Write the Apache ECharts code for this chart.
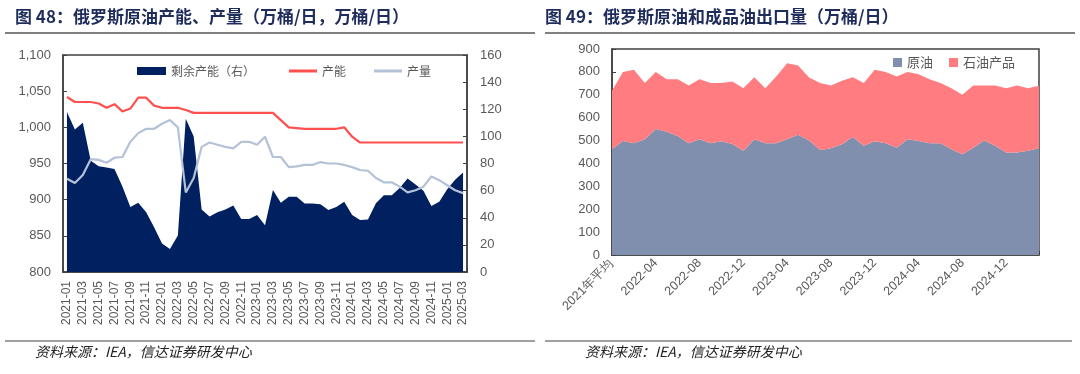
<!DOCTYPE html>
<html><head><meta charset="utf-8">
<script src="https://cdn.jsdelivr.net/npm/echarts@6/dist/echarts.min.js"></script>
<style>html,body{margin:0;padding:0;background:#fff}#c{width:1080px;height:374px}</style>
</head><body><div id="c"></div>
<script>
// ---------- Left chart (图 48) data ----------
const leftCategories = [
 '2021-01','2021-02','2021-03','2021-04','2021-05','2021-06','2021-07','2021-08','2021-09','2021-10','2021-11','2021-12',
 '2022-01','2022-02','2022-03','2022-04','2022-05','2022-06','2022-07','2022-08','2022-09','2022-10','2022-11','2022-12',
 '2023-01','2023-02','2023-03','2023-04','2023-05','2023-06','2023-07','2023-08','2023-09','2023-10','2023-11','2023-12',
 '2024-01','2024-02','2024-03','2024-04','2024-05','2024-06','2024-07','2024-08','2024-09','2024-10','2024-11','2024-12',
 '2025-01','2025-02','2025-03'];
const spareCapacity = [118,105,110,82,78,77,76,63,48,51,44,33,21,17,27,113,100,46,41,44,46,49,39,39,42,34.5,60.5,51,55.5,55.5,50.5,50.5,50,45.7,48,51.8,42,38.3,38.8,50.6,56.5,56.5,62,69,64.5,60,48.7,51.8,61,68,73.4];
const capacity = [1042,1035,1035,1035,1033,1027,1032,1022,1026,1041,1041,1030,1027,1027,1027,1024,1020,1020,1020,1020,1020,1020,1020,1020,1020,1020,1020,1010,1000,999,998,998,998,998,998,1000,987,979,979,979,979,979,979,979,979,979,979,979,979,979,979];
const production = [929,923,934,956,955,951,958,959,980,992,998,998,1005,1010,1000,910,930,973,979,976,973,971,980,980,976,987,959,959,945,946,948,948,952,950,950,948,945,941,940,930,924,924,918,910,913,918,932,927,920,913,909];
const leftAxisTicks = [800, 1100, 50];
const rightAxisTicks = [0, 160, 20];

// ---------- Right chart (图 49) data ----------
const rightCategories = ['2021年平均',
 '2022-01','2022-02','2022-03','2022-04','2022-05','2022-06','2022-07','2022-08','2022-09','2022-10','2022-11','2022-12',
 '2023-01','2023-02','2023-03','2023-04','2023-05','2023-06','2023-07','2023-08','2023-09','2023-10','2023-11','2023-12',
 '2024-01','2024-02','2024-03','2024-04','2024-05','2024-06','2024-07','2024-08','2024-09','2024-10','2024-11','2024-12',
 '2025-01','2025-02','2025-03'];
const crudeExports = [462,498,488,506,550,539,520,488,506,488,497,485,456,506,488,488,506,525,500,459,466,484,515,477,497,488,469,506,498,488,488,462,440,469,500,477,448,448,456,466];
const productExports = [256,302,321,245,249,229,248,252,262,263,254,273,273,271,241,292,332,303,276,292,274,277,262,274,312,311,311,293,292,280,263,267,260,271,240,263,281,292,273,273];
const exportAxisTicks = [0, 900, 100];

const NUM = '"Liberation Sans", Arial, sans-serif';
const CJK = '"Noto Sans CJK SC", sans-serif';
const GRAY = '#595959';
const BOX = '#404040';

const chart = echarts.init(document.getElementById('c'), null, {renderer: 'canvas'});

const valAxisCommon = {
  splitLine: {show: false},
  axisLine: {show: true, lineStyle: {color: BOX, width: 1.5}},
  axisTick: {show: true, inside: true, length: 4, lineStyle: {color: BOX}},
  axisLabel: {color: GRAY, fontSize: 13, fontFamily: NUM}
};

chart.setOption({
  animation: false,
  backgroundColor: '#fff',
  graphic: [
    {type: 'text', left: 15, top: 8, style: {text: '图 48：俄罗斯原油产能、产量（万桶/日，万桶/日）', font: 'bold 17px "Noto Sans CJK SC"', fill: '#1F2D5C'}},
    {type: 'line', shape: {x1: 5, y1: 33, x2: 535, y2: 33}, style: {stroke: '#808080', lineWidth: 2}},
    {type: 'text', left: 545, top: 8, style: {text: '图 49：俄罗斯原油和成品油出口量（万桶/日）', font: 'bold 17px "Noto Sans CJK SC"', fill: '#1F2D5C'}},
    {type: 'line', shape: {x1: 545, y1: 33, x2: 1075, y2: 33}, style: {stroke: '#808080', lineWidth: 2}},
    {type: 'line', shape: {x1: 5, y1: 341, x2: 535, y2: 341}, style: {stroke: '#808080', lineWidth: 1.5}},
    {type: 'line', shape: {x1: 545, y1: 341, x2: 1072, y2: 341}, style: {stroke: '#808080', lineWidth: 1.5}},
    {type: 'text', left: 35, top: 345, style: {text: '资料来源：IEA，信达证券研发中心', font: 'italic 14px "Noto Sans CJK SC"', fill: '#222'}},
    {type: 'text', left: 585, top: 345, style: {text: '资料来源：IEA，信达证券研发中心', font: 'italic 14px "Noto Sans CJK SC"', fill: '#222'}}
  ],
  legend: [
    {data: ['剩余产能（右）'], left: 137, top: 65, padding: 0, icon: 'rect', itemWidth: 29, itemHeight: 8,
     textStyle: {color: GRAY, fontSize: 12, fontFamily: CJK}},
    {data: ['产能'], left: 289, top: 65, padding: 0, icon: 'rect', itemWidth: 28, itemHeight: 3,
     textStyle: {color: GRAY, fontSize: 12, fontFamily: CJK}},
    {data: ['产量'], left: 374, top: 65, padding: 0, icon: 'rect', itemWidth: 28, itemHeight: 3,
     textStyle: {color: GRAY, fontSize: 12, fontFamily: CJK}},
    {data: ['原油', '石油产品'], left: 893, top: 56, padding: 0, icon: 'rect', itemWidth: 9, itemHeight: 9, itemGap: 16,
     textStyle: {color: GRAY, fontSize: 13, fontFamily: CJK}}
  ],
  grid: [
    {left: 63, top: 55, width: 404, height: 217, show: true, borderColor: BOX, borderWidth: 1.5, backgroundColor: 'transparent'},
    {left: 612, top: 49, width: 427, height: 206, show: true, borderColor: BOX, borderWidth: 1.5, backgroundColor: 'transparent'}
  ],
  xAxis: [
    {gridIndex: 0, type: 'category', data: leftCategories, boundaryGap: true,
     axisLine: {lineStyle: {color: BOX, width: 1.5}},
     axisTick: {show: true, inside: true, interval: 1, length: 4, lineStyle: {color: BOX}},
     axisLabel: {interval: 1, rotate: 90, color: GRAY, fontSize: 12, fontFamily: NUM, margin: 9}},
    {gridIndex: 1, type: 'category', data: rightCategories, boundaryGap: false,
     axisLine: {lineStyle: {color: BOX, width: 1.5}},
     axisTick: {show: true, inside: true, interval: 0, length: 4, lineStyle: {color: BOX}},
     axisLabel: {interval: 3, rotate: 45, color: GRAY, fontSize: 12.5, fontFamily: NUM, margin: 6}}
  ],
  yAxis: [
    Object.assign({}, valAxisCommon, {gridIndex: 0, type: 'value', min: leftAxisTicks[0], max: leftAxisTicks[1], interval: leftAxisTicks[2],
      axisLabel: Object.assign({}, valAxisCommon.axisLabel, {formatter: v => v.toLocaleString('en-US'), margin: 12})}),
    Object.assign({}, valAxisCommon, {gridIndex: 0, type: 'value', position: 'right', min: rightAxisTicks[0], max: rightAxisTicks[1], interval: rightAxisTicks[2],
      axisLabel: Object.assign({}, valAxisCommon.axisLabel, {margin: 13})}),
    Object.assign({}, valAxisCommon, {gridIndex: 1, type: 'value', min: exportAxisTicks[0], max: exportAxisTicks[1], interval: exportAxisTicks[2],
      axisLabel: Object.assign({}, valAxisCommon.axisLabel, {margin: 12})})
  ],
  series: [
    {name: '剩余产能（右）', type: 'line', xAxisIndex: 0, yAxisIndex: 1, data: spareCapacity, symbol: 'none',
     lineStyle: {width: 0, color: '#002060'}, itemStyle: {color: '#002060'}, areaStyle: {color: '#002060', opacity: 1}, z: 1},
    {name: '产能', type: 'line', xAxisIndex: 0, yAxisIndex: 0, data: capacity, symbol: 'none',
     lineStyle: {width: 2.2, color: '#FF5050'}, itemStyle: {color: '#FF5050'}, z: 3},
    {name: '产量', type: 'line', xAxisIndex: 0, yAxisIndex: 0, data: production, symbol: 'none',
     lineStyle: {width: 2.2, color: '#B4C2D8'}, itemStyle: {color: '#B4C2D8'}, z: 2},
    {name: '原油', type: 'line', xAxisIndex: 1, yAxisIndex: 2, stack: 'exp', data: crudeExports, symbol: 'none',
     lineStyle: {width: 0}, itemStyle: {color: '#7F8FAD'}, areaStyle: {color: '#7F8FAD', opacity: 1}},
    {name: '石油产品', type: 'line', xAxisIndex: 1, yAxisIndex: 2, stack: 'exp', data: productExports, symbol: 'none',
     lineStyle: {width: 0}, itemStyle: {color: '#FF7C80'}, areaStyle: {color: '#FF7C80', opacity: 1}}
  ]
});
</script>
</body></html>
